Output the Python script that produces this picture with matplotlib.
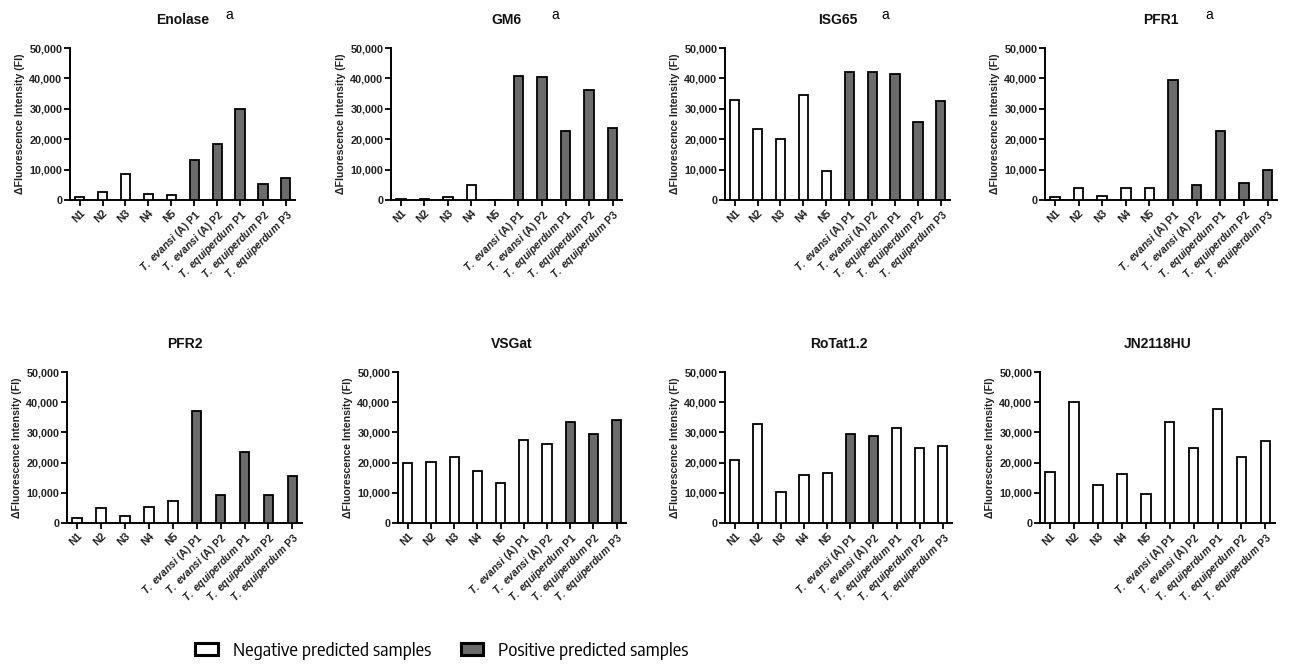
import matplotlib
matplotlib.use("Agg")
import matplotlib.pyplot as plt
from matplotlib import font_manager
from matplotlib.patches import Patch
from matplotlib.ticker import FuncFormatter, MultipleLocator

plt.rcParams['font.family'] = ['Liberation Sans', 'DejaVu Sans']
plt.rcParams['mathtext.fontset'] = 'custom'
plt.rcParams['mathtext.it'] = 'Liberation Sans:italic:bold'
plt.rcParams['mathtext.rm'] = 'Liberation Sans:bold'

# ---------------- data ----------------
samples = ["N1", "N2", "N3", "N4", "N5",
           r"$\mathit{T.\ evansi}$ (A) P1", r"$\mathit{T.\ evansi}$ (A) P2",
           r"$\mathit{T.\ equiperdum}$ P1", r"$\mathit{T.\ equiperdum}$ P2",
           r"$\mathit{T.\ equiperdum}$ P3"]

antigens = ["Enolase", "GM6", "ISG65", "PFR1", "PFR2", "VSGat", "RoTat1.2", "JN2118HU"]
marked = [True, True, True, True, False, False, False, False]   # "a" annotation

enolase = [1000, 2600, 8700, 2100, 1600, 13200, 18300, 29800, 5100, 7300]
gm6     = [300, 300, 900, 5000, 100, 40800, 40500, 22800, 36200, 23700]
isg65   = [33000, 23300, 20200, 34700, 9600, 42000, 42200, 41500, 25600, 32700]
pfr1    = [900, 3900, 1300, 3900, 4100, 39600, 5000, 22700, 5700, 9900]
pfr2    = [1800, 5000, 2300, 5300, 7300, 37200, 9200, 23400, 9200, 15400]
vsgat   = [19900, 20100, 22000, 17100, 13400, 27600, 26300, 33400, 29500, 34100]
rotat   = [21000, 32900, 10400, 16000, 16500, 29500, 28900, 31500, 25000, 25400]
jn2118  = [17000, 40100, 12500, 16100, 9600, 33600, 25000, 37800, 21800, 27100]
values = [enolase, gm6, isg65, pfr1, pfr2, vsgat, rotat, jn2118]

# predicted positive (1) / negative (0) per sample
pos_std   = [0, 0, 0, 0, 0, 1, 1, 1, 1, 1]
pos_vsg   = [0, 0, 0, 0, 0, 0, 0, 1, 1, 1]
pos_rotat = [0, 0, 0, 0, 0, 1, 1, 0, 0, 0]
pos_jn    = [0, 0, 0, 0, 0, 0, 0, 0, 0, 0]
positive = [pos_std, pos_std, pos_std, pos_std, pos_std, pos_vsg, pos_rotat, pos_jn]

legend_labels = ["Negative predicted samples", "Positive predicted samples"]

# ---------------- style ----------------
W, H = 1290, 667
NEG_COLOR = "white"
POS_COLOR = "#6b6b6b"

# pick a condensed font for the legend if one is available
legend_prop = {"family": ["Liberation Sans", "DejaVu Sans"], "size": 12.2}
fams = sorted({f.name for f in font_manager.fontManager.ttflist})
narrow = [n for n in fams if ("Narrow" in n or "Condensed" in n)]
if narrow:
    pref = [n for n in narrow if "Sans" in n] or narrow
    legend_prop = {"family": [pref[0], "Liberation Sans"], "size": 13.5}
else:
    cond = [f for f in font_manager.fontManager.ttflist
            if f.stretch in ("condensed", "semi-condensed", 'extra-condensed')
            and f.weight in (400, "normal", "regular") and f.style == "normal"]
    if cond:
        legend_prop = {"family": [cond[0].name], "stretch": cond[0].stretch, "size": 13.5}

# pixel boxes (left, right, top, bottom)
boxes = [(70, 295, 48, 200), (391, 622, 48, 200), (725, 950, 48, 200), (1045, 1277, 48, 200),
         (67, 302, 372, 523), (398, 626, 372, 523), (725, 952, 372, 523), (1040, 1275, 372, 523)]

fig = plt.figure(figsize=(W / 100, H / 100), dpi=100)
fmt = FuncFormatter(lambda v, p: f"{int(v):,}")

for name, vals, pos, box, mk in zip(antigens, values, positive, boxes, marked):
    l, r, t, b = box
    ax = fig.add_axes([l / W, 1 - b / H, (r - l) / W, (b - t) / H])
    x = list(range(len(samples)))
    colors = [POS_COLOR if p else NEG_COLOR for p in pos]
    ax.bar(x, vals, width=0.4, color=colors, edgecolor="black", linewidth=1.3, zorder=3)
    ax.set_xlim(-0.42, len(samples) - 0.6)
    ax.set_ylim(0, 50000)
    ax.yaxis.set_major_locator(MultipleLocator(10000))
    ax.yaxis.set_major_formatter(fmt)
    ax.set_xticks(x)
    ax.set_xticklabels(samples, rotation=45, ha="right", rotation_mode="anchor",
                       fontsize=7.5, fontweight="bold", color="#222222")
    for lab in ax.get_yticklabels():
        lab.set_fontsize(7.8)
        lab.set_fontweight("bold")
        lab.set_color("#222222")
    ax.tick_params(axis="both", direction="out", length=4, width=1.3, pad=1.5)
    for s in ["top", "right"]:
        ax.spines[s].set_visible(False)
    for s in ["left", "bottom"]:
        ax.spines[s].set_linewidth(1.4)
    ax.set_ylabel("ΔFluorescence Intensity (FI)", fontsize=7.6, fontweight="bold",
                  color="#222222", labelpad=3)
    ax.set_title(name, fontsize=10, fontweight="bold", pad=17, color="#111111")
    if mk:
        ax.text(0.71, 1.22, "a", transform=ax.transAxes, fontsize=10,
                ha="center", va="center")

handles = [Patch(facecolor=NEG_COLOR, edgecolor="black", linewidth=2.2),
           Patch(facecolor=POS_COLOR, edgecolor="black", linewidth=2.2)]
fig.legend(handles, legend_labels, loc="center", bbox_to_anchor=(442 / W, 1 - 651 / H),
           ncol=2, frameon=False, prop=legend_prop,
           handlelength=1.2, handleheight=0.6, handletextpad=0.8, columnspacing=1.6)

fig.savefig("out.png", dpi=100, facecolor="white")
